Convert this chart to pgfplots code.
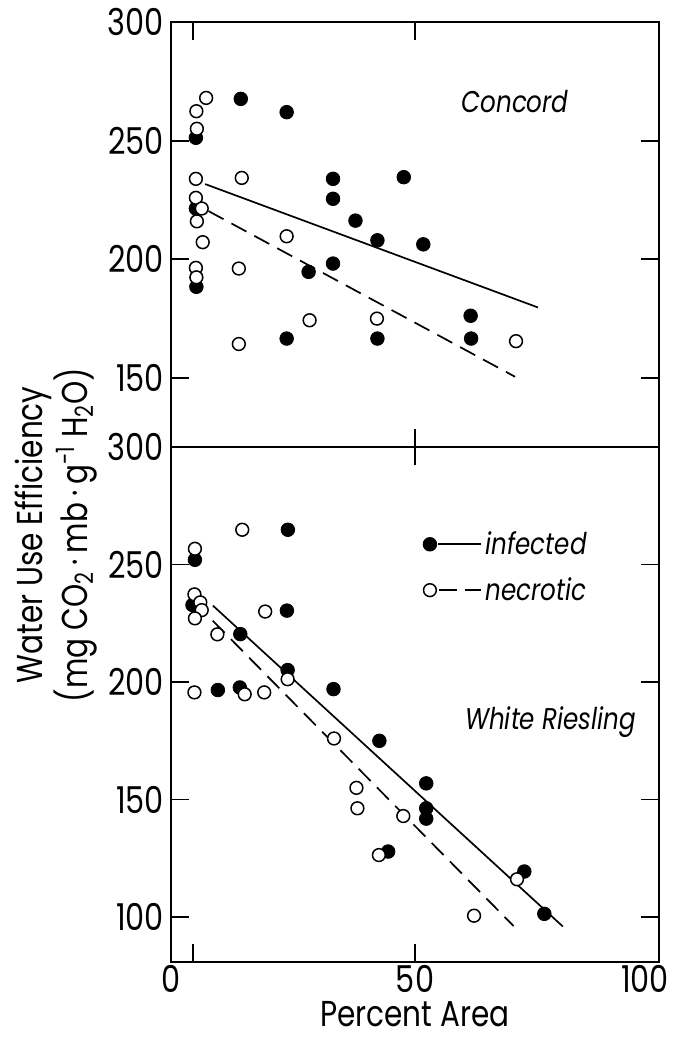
\documentclass[border=0pt]{standalone}
\usepackage{pgfplots}
\pgfplotsset{compat=1.18}
\usepackage{fontspec}
\setmainfont{Poppins}[FakeStretch=0.82]

\pgfplotsset{
  panel/.style={
    width=244pt, scale only axis,
    xmin=0, xmax=100,
    axis line style={line width=1pt},
    major tick length=9pt,
    every tick/.style={line width=0.9pt, black},
    tick align=inside,
    ytick pos=both,
    xtick pos=both,
    /pgf/number format/assume math mode=true,
    ticklabel style={font=\fontsize{18.5}{21}\selectfont},
    clip=false,
  },
  infected/.style={forget plot, only marks, mark=*, mark size=3.4pt,
    mark options={fill=black, draw=black}},
  necrotic/.style={forget plot, only marks, mark=*, mark size=3.2pt,
    mark options={fill=white, draw=black, line width=0.75pt}},
  fitline/.style={forget plot, no marks, black, line width=0.85pt},
  fitdash/.style={forget plot, no marks, black, line width=0.85pt, dash pattern=on 8.5pt off 4.5pt},
}

\begin{document}
\begin{tikzpicture}
\path[use as bounding box] (-85.5pt,11pt) rectangle (254pt,-510pt);

% Concord
\begin{axis}[panel, at={(0pt,0pt)}, anchor=north west, height=212.5pt,
  ymin=120.9, ymax=300, ytick={150,200,250,300},
  xtick={50}, xticklabels={},
  extra x ticks={4.5}, extra x tick labels={}, extra x tick style={xtick pos=upper}]
\addplot[fitline] coordinates {(7.0,231.7) (75.2,179.7)};
\addplot[fitdash] coordinates {(7.7,220.3) (70.5,150.5)};
\addplot[infected] coordinates {
(14.3,267.6) (23.7,262.0) (5.1,251.2) (5.1,221.4) (5.2,188.4) (33.2,233.9)
(33.2,225.5) (37.8,216.3) (42.3,208.0) (47.7,234.6) (51.7,206.3) (33.2,198.2)
(28.2,194.7) (23.7,166.6) (42.3,166.6) (61.4,176.2) (61.5,166.6)};
\addplot[necrotic] coordinates {
(7.2,268.0) (5.2,262.4) (5.3,255.0) (5.1,233.9) (5.1,225.9) (6.3,221.4)
(5.3,216.0) (6.5,207.2) (5.1,196.4) (5.2,192.4) (14.5,234.3) (13.9,196.1)
(13.9,164.3) (23.7,209.7) (28.4,174.3) (42.2,175.0) (70.7,165.5)};
\node[font=\fontsize{15}{18}\selectfont\itshape] at (axis cs:70.5,266.5) {Concord};
\end{axis}

% White Riesling
\begin{axis}[panel, at={(0pt,-212.5pt)}, anchor=north west, height=257.5pt,
  ymin=80.9, ymax=300, ytick={100,150,200,250,300},
  xtick={0,50,100}, xticklabels={0,50,{\hbox to 0pt{\hss 100\hspace{-5pt}}}},
  xticklabel style={yshift=2pt},
  extra x ticks={4.5}, extra x tick labels={}, extra x tick style={xtick pos=lower},
  xlabel={Percent Area},
  xlabel style={font=\fontsize{18}{21}\selectfont, inner sep=0pt, yshift=-1pt},
  legend style={draw=none, fill=none, at={(axis cs:51.5,266)}, anchor=north west,
    font=\fontsize{15}{18}\selectfont\itshape, inner sep=0pt, row sep=6pt},
  legend cell align=left]
\addplot[fitline] coordinates {(8.6,232.5) (80.3,96.0)};
\addplot[fitdash] coordinates {(4.8,234.0) (70.2,96.2)};
\addplot[infected] coordinates {
(23.95,264.8) (4.9,252.0) (4.4,232.8) (23.75,230.4) (14.2,220.4) (23.9,205.1)
(9.6,196.6) (14.1,197.7) (33.3,197.0) (42.7,175.0) (52.3,156.9) (52.3,146.3)
(52.3,141.9) (44.5,127.9) (72.4,119.4) (76.5,101.4)};
\addplot[necrotic] coordinates {
(14.6,264.8) (4.9,256.7) (4.8,237.3) (6.0,233.9) (6.3,230.6) (4.9,227.1)
(19.3,230.0) (9.5,220.3) (23.9,201.2) (4.8,195.6) (15.1,194.8) (19.1,195.6)
(33.4,176.0) (38.0,155.0) (38.2,146.3) (47.6,143.0) (42.6,126.4) (70.9,116.1)
(62.1,100.6)};
\addlegendimage{legend image code/.code={
  \draw[black, line width=0.85pt] (4.1pt,0pt) -- (25.3pt,0pt);
  \fill[black] (0pt,0pt) circle (3.4pt);}}
\addlegendentry{infected}
\addlegendimage{legend image code/.code={
  \draw[black, line width=0.85pt, dash pattern=on 9pt off 4pt] (4.5pt,0pt) -- (25.5pt,0pt);
  \draw[black, fill=white, line width=0.75pt] (0pt,0pt) circle (3.2pt);}}
\addlegendentry{necrotic}
\node[font=\fontsize{15}{18}\selectfont\itshape] at (axis cs:77.8,183.1) {White Riesling};
\end{axis}

\node[rotate=90, align=center, font=\fontsize{18}{19}\selectfont] at (-57.5pt,-256.5pt)
  {Water Use Efficiency\\(mg CO\textsubscript{2}\,·\,mb\,·\,g\textsuperscript{-1} H\textsubscript{2}O)};
\end{tikzpicture}
\end{document}
